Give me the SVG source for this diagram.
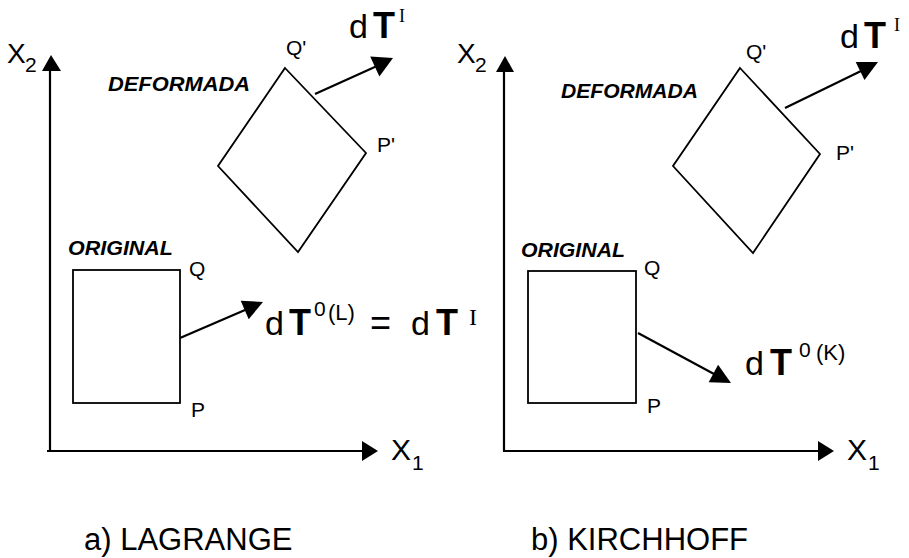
<svg xmlns="http://www.w3.org/2000/svg" width="909" height="558" viewBox="0 0 909 558">
<style>
.ln{stroke:#000;stroke-width:2.2;fill:none}
.sh{stroke:#000;stroke-width:1.8;fill:none}
.ah{fill:#000}
.t{font-family:"Liberation Sans",Arial,sans-serif;fill:#000}
.it{font-style:italic;font-weight:bold}
.b{font-weight:bold}
.sr{font-family:"Liberation Serif","Times New Roman",serif;fill:#000}
</style>
<rect width="909" height="558" fill="#fff"/>
<g id="connectors">
<path class="ln" d="M47,451 L364,451"/>
<path class="ah" d="M362,441 L378,451 L362,461 Z"/>
<path class="ln" d="M50,451 L50,70"/>
<path class="ah" d="M42,71 L51,55 L61,71 Z"/>
<path class="ln" d="M503,451 L820,451"/>
<path class="ah" d="M818,441 L834,451 L818,461 Z"/>
<path class="ln" d="M504,451 L504,71"/>
<path class="ah" d="M496,72 L505,56 L514,72 Z"/>
<path class="ln" d="M315,94 L377,66"/>
<path class="ah" d="M393,58 L379.4,76.4 L370.2,56.4 Z"/>
<path class="ln" d="M180,338 L245,310"/>
<path class="ah" d="M263,302 L248.7,319.2 L240.7,300.8 Z"/>
<path class="ln" d="M785,108 L861,71"/>
<path class="ah" d="M878,62 L864.5,79.9 L855.7,61.9 Z"/>
<path class="ln" d="M638,333 L714,374"/>
<path class="ah" d="M731,383 L708.7,382.3 L718.1,364.7 Z"/>
</g>
<g id="left-panel">
<g id="left-x2"><text class="t" x="7" y="63" font-size="28">X</text><text class="t" x="25" y="72" font-size="21">2</text></g>
<g id="left-x1"><text class="t" x="391" y="460" font-size="30">X</text><text class="t" x="412" y="470" font-size="21">1</text></g>
<g id="left-deformed">
<path class="sh" d="M285,68 L366,153 L298,252 L218,166 Z"/>
<text class="t it" x="108" y="91" font-size="20" textLength="142" lengthAdjust="spacingAndGlyphs">DEFORMADA</text>
<text class="t" x="286" y="55" font-size="21">Q'</text>
<text class="t" x="377" y="152" font-size="21">P'</text>
</g>
<g id="left-original">
<rect class="sh" x="73" y="270" width="107" height="133"/>
<text class="t it" x="68" y="255" font-size="20" textLength="105" lengthAdjust="spacingAndGlyphs">ORIGINAL</text>
<text class="t" x="189" y="276" font-size="21">Q</text>
<text class="t" x="191" y="417" font-size="21">P</text>
</g>
<g id="left-dTI"><text class="t" x="349" y="38" font-size="34">d</text><text class="t b" x="373" y="38" font-size="36">T</text><text class="sr" x="399" y="22" font-size="18">I</text></g>
<g id="left-dT0L"><text class="t" x="265" y="335" font-size="34">d</text><text class="t b" x="289" y="335" font-size="36">T</text><text class="t" x="314" y="316" font-size="21">0</text><text class="t" x="328" y="320" font-size="22">(L)</text><text class="t" x="370" y="335" font-size="36">=</text><text class="t" x="411" y="335" font-size="34">d</text><text class="t b" x="436" y="335" font-size="36">T</text><text class="sr" x="469" y="325" font-size="24">I</text></g>
<text id="label-a" class="t" x="84" y="550" font-size="31">a) LAGRANGE</text>
</g>
<g id="right-panel">
<g id="right-x2"><text class="t" x="457" y="63" font-size="28">X</text><text class="t" x="475" y="72" font-size="21">2</text></g>
<g id="right-x1"><text class="t" x="847" y="460" font-size="30">X</text><text class="t" x="868" y="470" font-size="21">1</text></g>
<g id="right-deformed">
<path class="sh" d="M740,68 L820,154 L753,253 L673,166 Z"/>
<text class="t it" x="561" y="98" font-size="20" textLength="137" lengthAdjust="spacingAndGlyphs">DEFORMADA</text>
<text class="t" x="746" y="59" font-size="21">Q'</text>
<text class="t" x="836" y="160" font-size="21">P'</text>
</g>
<g id="right-original">
<rect class="sh" x="528" y="271" width="108" height="132"/>
<text class="t it" x="521" y="257" font-size="20" textLength="104" lengthAdjust="spacingAndGlyphs">ORIGINAL</text>
<text class="t" x="644" y="275" font-size="21">Q</text>
<text class="t" x="647" y="413" font-size="21">P</text>
</g>
<g id="right-dTI"><text class="t" x="840" y="48" font-size="34">d</text><text class="t b" x="864" y="48" font-size="36">T</text><text class="sr" x="894" y="31" font-size="18">I</text></g>
<g id="right-dT0K"><text class="t" x="745" y="375" font-size="34">d</text><text class="t b" x="770" y="375" font-size="36">T</text><text class="t" x="799" y="357" font-size="21">0</text><text class="t" x="816" y="360" font-size="22">(K)</text></g>
<text id="label-b" class="t" x="531" y="550" font-size="31">b) KIRCHHOFF</text>
</g>
</svg>
